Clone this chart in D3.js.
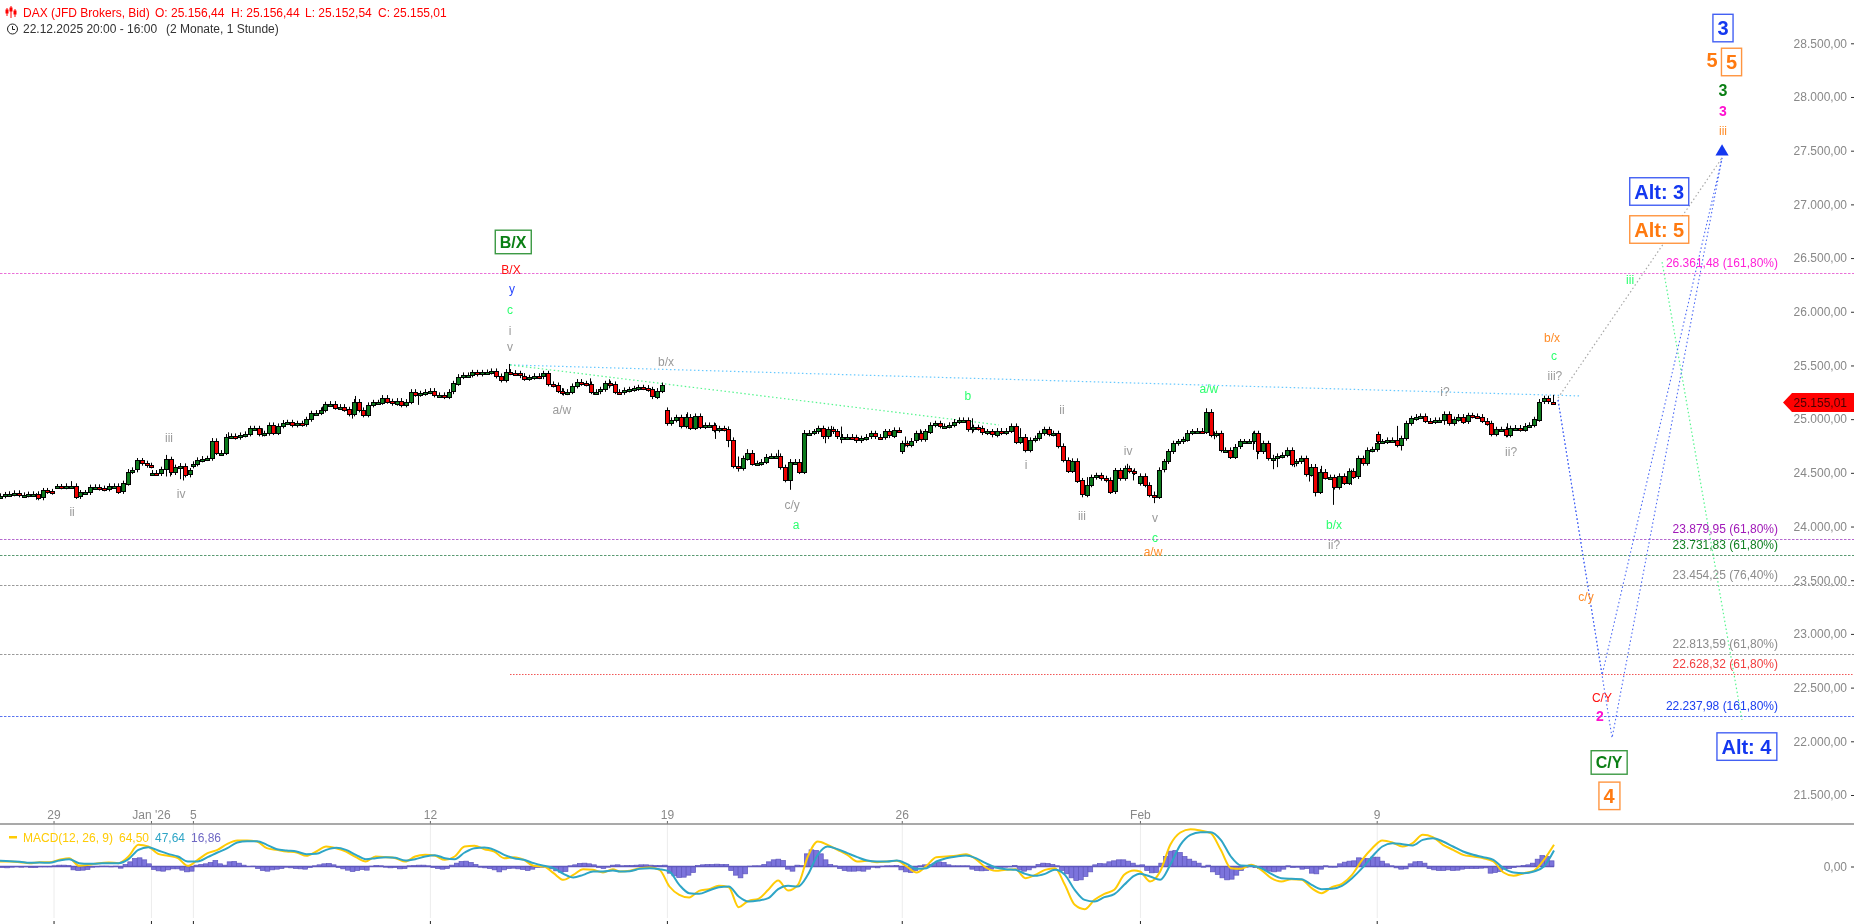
<!DOCTYPE html>
<html><head><meta charset="utf-8">
<script src="https://cdn.jsdelivr.net/npm/d3@7"></script>
<style>html,body{margin:0;padding:0;background:#fff;overflow:hidden}svg{display:block;will-change:transform;opacity:.999}text{font-family:"Liberation Sans",Arial,sans-serif}</style>
</head><body><svg id="c" width="1854" height="924"></svg>
<script>
// ---------- price sessions: closes every two hourly bars ----------
const sessionStartBars=[0,23.9,64,81.3,281.3,380.5,481,581.3];
const sessionOpens=[24286,24373,24503,24565,25086,24699,24404,24860];
const closes0=[24286,24299,24305,24314,24295,24295,24302,24305,24268,24336,24327,24320];
const closes1=[24373,24370,24379,24379,24280,24317,24317,24367,24370,24358,24351,24379,24379,24327,24404,24512,24528,24615,24590,24571,24565];
const closes2=[24503,24494,24534,24627,24503,24553,24565,24481,24522];
const closes3=[24584,24621,24633,24636,24798,24689,24689,24838,24844,24832,24853,24863,24915,24915,24863,24869,24946,24875,24937,24968,24971,24946,24962,24953,24999,25055,25061,25086,25139,25145,25111,25117,25092,25049,25164,25086,25040,25133,25157,25157,25201,25167,25148,25173,
25133,25163,25256,25232,25241,25256,25266,25226,25226,25210,25256,25334,25396,25412,25412,25436,25421,25436,25439,25449,25402,25365,25443,25433,25427,25405,25380,25390,25405,25396,25427,25328,25318,25266,25247,25256,25309,25350,25334,25328,25256,25256,25278,25334,25328,25256,25250,25272,25278,25287,25297,25294,25278,25210,25266,25318];
const closes4=[24962,24993,25018,24937,25024,24922,25030,24931,24946,24946,24900,24915,24909,24807,24565,24544,24637,24689,24590,24590,24605,24652,24658,24658,24553,24435,24605,24605,
24512,24875,24875,24885,24916,24838,24906,24885,24838,24838,24838,24832,24801,24823,24838,24869,24838,24832,24885,24847,24900,24894];
const closes5=[24776,24761,24801,24869,24813,24885,24947,24962,24937,24937,24947,24978,24993,24993,24906,24925,24916,24875,24885,24854,24894,24875,24894,24937,24791,24838,24714,24807,24823,24869,24906,24863,24869,24751,24621,24522,24612,24429,24296,24389,24460,24478,24450,24435,24326,24522,24450,24544,24519,24503];
const closes6=[24472,24389,24296,24280,24528,24606,24699,24776,24792,24813,24875,24885,24894,
24885,25070,24854,24869,24714,24714,24652,24745,24792,24792,24792,24869,24699,24776,24637,24637,24658,24668,24714,24584,24606,24637,24488,24559,24326,24512,24460,24460,24367,24472,24410,24519,24466,24637,24590,24714,24720,24776];
const closes7=[24792,24792,24807,24807,24761,24823,24962,25008,25024,25030,24987,24978,24993,24993,25049,24962,25000,25024,24978,25036,25030,25024,24987,24962,24863,24906,24906,24854,24916,24922,24906,24940,24947,24999,25164,25195,25164,25155];
const sessionCloses=[closes0,closes1,closes2,closes3,closes4,closes5,closes6,closes7];

// ---------- notable wicks ----------
const wickBars=[15.2,30,69.9,71.7,75.9,77.4,89.6,96.3,110.4,135.7,148.4,149.9,176.5,214.9,237.7,249,250.1,257.1,289.7,301.7,307.3,311.6,315,328.4,333.3,348.1,350.5,354.7,381.9,388.2,410,430.4,456.4,458.6,475.4,478.2,487,508.9,512.3,528.8,530.2,535.6,537.3,538.9,546,550.2,552.4,554.7,557.4,562.6,570,589.3,591,609.1,635.9,655.1];
const wickHighs=[24311,24423,24667,24574,24590,24503,24823,24878,24915,25117,25101,25216,25241,25514,25287,25380,25303,25371,25064,24962,24900,24652,24720,24714,24528,24885,24937,24931,24838,24906,25008,24916,24373,24460,24584,24528,24326,25101,24885,24885,24699,24760,24668,24668,24621,24528,24528,24404,24565,24404,24528,24937,24807,25008,24962,25226];
const wickLows=[24249,24357,24466,24466,24441,24429,24652,24807,24838,25055,25005,25086,25133,25427,25219,25303,25226,25287,24931,24816,24739,24512,24652,24637,24342,24776,24838,24776,24745,24807,24869,24791,24274,24357,24512,24429,24218,24931,24813,24714,24627,24637,24534,24553,24553,24481,24419,24280,24497,24202,24388,24807,24708,24947,24832,25154];

// ---------- axis ----------
const priceTicks=[21500,22000,22500,23000,23500,24000,24500,25000,25500,26000,26500,27000,27500,28000,28500];
const timeTickLabels=["29","Jan '26","5","12","19","26","Feb","9"];
const timeTickBars=[22.8,63.9,81.6,181.6,281.6,380.7,481.2,581.1];
const lastClose=25155.01;

// ---------- Fibonacci levels ----------
const fibLevels=[26361.48,23879.95,23731.83,23454.25,22813.59,22628.32,22237.98];
const fibPercents=[161.8,61.8,61.8,76.4,61.8,61.8,161.8];
const fibStartBars=[0,0,0,0,0,215.2,0];
const fibLineColors=["#ea70d8","#b568cf","#5a9a72","#9a9a9a","#9a9a9a","#f25555","#5a74f0"];
const fibTextColors=["#ff20d8","#a018b8","#118022","#8c8c8c","#8c8c8c","#f04040","#1c40f0"];

// ---------- wave projection lines ----------
const lightBlueBars=[215.2,667], lightBluePrices=[25505,25216];
const lightGreenBars=[215.2,421.5], lightGreenPrices=[25505,24946];
const altGreenBars=[701.3,735], altGreenPrices=[26463,22200];
const grayBars=[657.4,726.6], grayPrices=[25197,27433];
const blueABars=[657.4,676,726.6], blueAPrices=[25179,22618,27433];
const blueBBars=[657.4,680.2,726.6], blueBPrices=[25179,22032,27433];
const arrowBar=726.6, arrowPrice=27490;

// ---------- wave labels ----------
const labelTexts=["ii","iii","iv","v","i","c","y","B/X","a/w","b/x","c/y","a","b","ii","i","iii","iv","v","c","a/w","a/w","b/x","ii?","i?","ii?","iii?","c","b/x","c/y","C/Y","iii","iii"];
const labelBars=[30.4,71.3,76.4,215.2,215.2,215.2,216,215.6,237.1,281,334.2,335.9,408.4,448.1,432.9,456.5,476,487.3,487.3,486.5,510.1,562.9,562.9,609.7,637.6,656.1,655.7,654.9,669.2,675.9,727,687.8];
const labelPrices=[24136,24830,24304,25681,25830,26017,26217,26394,25086,25533,24201,24015,25216,25086,24574,24103,24709,24080,23894,23764,25290,24015,23829,25259,24697,25402,25589,25756,23345,22408,27686,26296];
const labelColors=["g","g","g","g","g","l","b","r","g","g","g","l","l","g","g","g","g","g","l","o","l","l","g","g","g","g","l","o","o","r","o","l"];
const boldTexts=["2","5","3","3"];
const boldBars=[675.1,722.4,727,727];
const boldPrices=[22232,28344,28065,27870];
const boldSizes=[14,20,16,14];
const boldColors=["#ff10d0","#ff7a10","#0a7f14","#ff10d0"];
const boxTexts=["B/X","C/Y","4","Alt: 4","3","5","Alt: 3","Alt: 5"];
const boxBars=[216.5,678.9,678.9,736.9,727,730.6,700.1,700.1];
const boxPrices=[26650,21803,21492,21951,28642,28326,27120,26766];
const boxSizes=[16,16,20,20,20,20,20,20];
const boxColors=["#0a7f14","#0a7f14","#ff7a10","#1438f0","#1438f0","#ff7a10","#1438f0","#ff7a10"];

// ---------- MACD(12,26,9) ----------
const macdA=[15,15,13,10,13,13,20,25,2,5,10,12,10,30,65,60,38,32,25,2,20,40,50,68,78,78,75,55,50,45,42,32,45,60,55,45,28,15,30,28,25,15,30,35,32,20,30,60,62,52,45,25,28,20,2,0,-20,-40,-25,-8,-10,-18,-8];
const signalA=[17,16,14,11,12,11,18,22,10,8,9,10,10,22,50,58,48,38,30,15,15,28,42,55,72,76,76,65,52,48,45,37,38,50,56,50,35,22,25,28,26,18,22,30,34,25,22,42,55,57,50,35,25,20,10,2,-5,-22,-33,-25,-15,-15,-12];
const macdB=[-15,-13,-5,-3,-10,-60,-85,-93,-73,-68,-58,-62,-122,-103,-97,-70,-42,-72,-55,30,75,65,50,35,15,17,13,15,17,0,-18,2,28,30,32,37,22,-3,-13,-10,-8,-35,-25,-10,-5,-55,-115,-128,-100,-82,-70,-25,-12];
const signalB=[-15,-14,-7,-5,-8,-15,-55,-80,-82,-72,-62,-60,-90,-105,-102,-95,-68,-58,-60,-25,35,60,52,40,28,18,15,15,18,8,-7,-5,15,25,30,33,25,10,-3,-8,-10,-22,-28,-22,-10,-25,-70,-100,-105,-92,-83,-55,-28];
const macdC=[-15,-45,-15,65,102,112,108,100,50,-5,-7,5,-10,-35,-45,-38,-40,-65,-80,-62,-52,-25,20,55,78,72,60,70,95,88,65,50,35,30,25,15,-18,-28,-20,-13,20,65];
const signalC=[-22,-30,-40,5,65,95,103,103,80,30,3,2,-5,-22,-35,-37,-38,-55,-68,-67,-58,-35,-5,30,60,70,67,63,80,85,75,60,45,35,28,20,-5,-18,-20,-15,0,48];
const histA=[-3,-4,-2,-1,-2,-1,-3,-3,-1,-1,-1,2,4,4,3,-10,-12,-11,-9,-2,-1,1,1,-1,1,-5,6,14,24,26,20,8,-9,-13,-14,-10,-7,-7,-11,-16,-14,4,6,8,12,18,8,4,14,15,10,4,0,1,-6,-12,-14,-10,-8,-6,-2,-4,-6,-7,-8,-3,2,5,8,9,5,-3,-7,-11,-15,-12,-9,-11,1,3,2,-2,-4,-3,-7,-6,2,3,4,4,2,-3,-6,-8,-6,4,10,15,16,12,6,-2,-4,-6,-10,-16,-10,-6,-5,-7,-9,-12,-8,-3,-2,0,-7,-13,-17,-15,2,5,9,10,8,5,-3,-6,-2,4,5];
const histB=[2,3,3,4,5,5,4,3,3,4,-20,-28,-33,-32,-26,-18,3,5,6,6,7,6,6,-12,-26,-34,-22,1,2,2,6,14,20,22,18,-8,-14,4,3,38,50,48,38,20,6,2,-6,-12,-14,-14,-13,-14,-8,-2,-4,1,2,2,3,-10,-16,-18,-12,2,5,6,10,14,12,5,2,2,2,2,-8,-12,-13,-12,-8,-4,-3,-2,-1,3,-10,-14,-10,-4,6,10,9,6,2,-12,-22,-34,-42,-40,-30,-16,5,9,8,14,17,20,20,16,10,4];
const histC=[5,-12,-19,-18,10,30,46,48,42,30,22,16,10,-2,4,-16,-24,-34,-40,-38,-26,-12,-2,0,-3,-6,-9,-14,-16,-14,-8,2,-3,-2,-8,-6,-20,-22,-8,2,-2,-2,8,13,16,17,26,24,24,28,28,16,8,2,-4,-8,-7,8,14,15,10,-6,-10,-12,-12,-10,-12,-11,-8,-6,-6,-6,-5,-4,-20,-18,-15,-8,-6,-3,1,3,5,10,22,33,30,17];
const macdSectionBars=[[0,258.6],[261.6,478.5],[481,655.7]];
const histSectionBars=[[0,261.6],[261.6,481],[481,655.7]];
const macdLegend=["MACD(12, 26, 9)","64,50","47,64","16,86"];

// ---------- scales ----------
const x=d3.scaleLinear().domain([0,1000]).range([0,2370]);
const y=d3.scaleLinear().domain([21500,28500]).range([795,43.3]);
const ym=d3.scaleLinear().domain([-150,150]).range([916.5,816.5]);
const de=d3.formatLocale({decimal:",",thousands:".",grouping:[3],currency:["","€"]});
const fmtP=de.format(",.2f");

const svg=d3.select("#c");
const C={g:"#9a9a9a",l:"#2bff6e",b:"#2a48ff",r:"#ff1010",o:"#ff8c28"};
const F='"Liberation Sans",Arial,sans-serif';
svg.append("rect").attr("width",1854).attr("height",924).attr("fill","#fff");

// ---------- MACD pane back layer ----------
const pane=svg.append("g");
pane.selectAll("line.grid").data(timeTickBars).join("line").attr("class","grid")
 .attr("x1",d=>x(d)).attr("x2",d=>x(d)).attr("y1",824).attr("y2",918).attr("stroke","#ececec");
pane.selectAll("line.bt").data(timeTickBars).join("line").attr("class","bt")
 .attr("x1",d=>x(d)).attr("x2",d=>x(d)).attr("y1",921).attr("y2",924).attr("stroke","#222");
pane.selectAll("line.tt").data(timeTickBars).join("line").attr("class","tt")
 .attr("x1",d=>x(d)).attr("x2",d=>x(d)).attr("y1",821).attr("y2",824).attr("stroke","#666");

// histogram
[histA,histB,histC].forEach((h,i)=>{
  const s=d3.scaleLinear().domain([0,h.length]).range(histSectionBars[i]);
  pane.append("g").selectAll("rect").data(h).join("rect")
   .attr("x",(d,j)=>x(s(j)))
   .attr("width",(d,j)=>x(s(j+1))-x(s(j)))
   .attr("y",d=>Math.min(ym(d),ym(0)))
   .attr("height",d=>Math.abs(ym(d)-ym(0)))
   .attr("fill","#7c74dc").attr("stroke","#5f57bd").attr("stroke-width",0.7);
});
pane.append("line").attr("x1",x(0)).attr("x2",x(655.7)).attr("y1",ym(0)).attr("y2",ym(0)).attr("stroke","#5f57bd").attr("stroke-width",1.6);

const mline=d3.line().x(d=>x(d[0])).y(d=>ym(d[1])).curve(d3.curveMonotoneX);
function sec(arrs){
  let out=[];
  arrs.forEach((a,i)=>{
    const s=d3.scaleLinear().domain([0,a.length-1]).range(macdSectionBars[i]);
    a.forEach((v,j)=>out.push([s(j),v]));
  });
  return out;
}
pane.append("path").attr("d",mline(sec([macdA,macdB,macdC]))).attr("fill","none").attr("stroke","#ffcb05").attr("stroke-width",2);
pane.append("path").attr("d",mline(sec([signalA,signalB,signalC]))).attr("fill","none").attr("stroke","#2ea5c6").attr("stroke-width",2);

// axis line + labels
svg.append("line").attr("x1",0).attr("x2",1854).attr("y1",824).attr("y2",824).attr("stroke","#8c8c8c").attr("stroke-width",1.4);
svg.append("g").selectAll("text").data(timeTickLabels).join("text")
 .attr("x",(d,i)=>x(timeTickBars[i])).attr("y",819).attr("text-anchor","middle").attr("font-size",12).attr("fill","#888").text(d=>d);

// legend
svg.append("rect").attr("x",9).attr("y",836).attr("width",8).attr("height",2.5).attr("fill","#ffcb05");
const legX=[23,119,155,191], legC=["#ffcb05","#ffcb05","#2ea5c6","#6f68c4"];
svg.append("g").selectAll("text").data(macdLegend).join("text")
 .attr("x",(d,i)=>legX[i]).attr("y",841.5).attr("font-size",12).attr("fill",(d,i)=>legC[i]).text(d=>d);

// ---------- Fib levels ----------
const levels=svg.append("g");
levels.selectAll("line").data(fibLevels).join("line")
 .attr("x1",(d,i)=>x(fibStartBars[i])).attr("x2",1854)
 .attr("y1",d=>Math.round(y(d))+.5).attr("y2",d=>Math.round(y(d))+.5)
 .attr("stroke",(d,i)=>fibLineColors[i]).attr("stroke-width",1)
 .attr("stroke-dasharray",(d,i)=>i==5?"1.5,1.5":"2.5,1.5");

// ---------- projection lines ----------
const pl=d3.line().x(d=>x(d[0])).y(d=>y(d[1]));
function proj(b,p,color,w){
  svg.append("path").attr("d",pl(b.map((v,i)=>[v,p[i]]))).attr("fill","none")
   .attr("stroke",color).attr("stroke-width",w||1.2).attr("stroke-dasharray","1.5,2.5");
}
proj(lightBlueBars,lightBluePrices,"#66c8ff");
proj(lightGreenBars,lightGreenPrices,"#55f58e");
proj(altGreenBars,altGreenPrices,"#55f58e");
proj(grayBars,grayPrices,"#a8a8a8");
proj(blueABars,blueAPrices,"#4a68f5",1.1);
proj(blueBBars,blueBPrices,"#4a68f5",1.1);
svg.append("path").attr("d",d3.symbol(d3.symbolTriangle,75)()).attr("transform",`translate(${x(arrowBar)},${y(arrowPrice)})`).attr("fill","#1438f0");

// ---------- candles ----------
svg.append("g").selectAll("line").data(wickBars).join("line")
 .attr("x1",d=>Math.round(x(d))+.5).attr("x2",d=>Math.round(x(d))+.5)
 .attr("y1",(d,i)=>y(wickHighs[i])).attr("y2",(d,i)=>y(wickLows[i]))
 .attr("stroke","#000").attr("stroke-width",1);
const candles=[];
sessionCloses.forEach((cl,s)=>{
  let prev=sessionOpens[s];
  cl.forEach((c,j)=>{candles.push({b:sessionStartBars[s]+2*j,o:prev,c});prev=c;});
});
const cand=svg.append("g").selectAll("g").data(candles).join("g");
cand.append("line")
 .attr("x1",d=>Math.round(x(d.b))+.5).attr("x2",d=>Math.round(x(d.b))+.5)
 .attr("y1",d=>Math.min(y(d.o),y(d.c))-2.5).attr("y2",d=>Math.max(y(d.o),y(d.c))+2.5)
 .attr("stroke","#000");
cand.append("rect")
 .attr("x",d=>Math.round(x(d.b))-1.5).attr("width",4)
 .attr("y",d=>Math.round(Math.min(y(d.o),y(d.c)))+.5)
 .attr("height",d=>Math.max(Math.round(Math.abs(y(d.o)-y(d.c))),2))
 .attr("fill",d=>d.c>=d.o?"#0c7a1c":"#f00000").attr("stroke","#000").attr("stroke-width",1);

// ---------- fib labels ----------
svg.append("g").selectAll("text").data(fibLevels).join("text")
 .attr("x",1778).attr("y",d=>y(d)-6).attr("text-anchor","end").attr("font-size",12)
 .attr("fill",(d,i)=>fibTextColors[i])
 .text((d,i)=>`${fmtP(d)} (${fmtP(fibPercents[i])}%)`);

// ---------- labels ----------
svg.append("g").selectAll("text").data(labelTexts).join("text")
 .attr("x",(d,i)=>x(labelBars[i])).attr("y",(d,i)=>y(labelPrices[i])+4.5).attr("text-anchor","middle")
 .attr("font-size",12).attr("fill",(d,i)=>C[labelColors[i]]).text(d=>d);
svg.append("g").selectAll("text").data(boldTexts).join("text")
 .attr("x",(d,i)=>x(boldBars[i])).attr("y",(d,i)=>y(boldPrices[i])+boldSizes[i]*.36).attr("text-anchor","middle")
 .attr("font-size",(d,i)=>boldSizes[i]).attr("font-weight","bold").attr("fill",(d,i)=>boldColors[i]).text(d=>d);
boxTexts.forEach((t,i)=>{
  const g=svg.append("g");
  const txt=g.append("text").attr("x",x(boxBars[i])).attr("y",y(boxPrices[i])+boxSizes[i]*.36)
   .attr("text-anchor","middle").attr("font-size",boxSizes[i]).attr("font-weight","bold").attr("fill",boxColors[i]).text(t);
  const bb=txt.node().getBBox();
  const h=boxSizes[i]==16?23.5:27.5;
  g.insert("rect","text").attr("x",bb.x-4.5).attr("width",bb.width+9).attr("y",y(boxPrices[i])-h/2).attr("height",h)
   .attr("fill","#fff").attr("stroke",boxColors[i]).attr("stroke-width",1.4).attr("stroke-opacity",.8);
});

// ---------- price axis ----------
const axis=d3.axisLeft(y).tickValues(priceTicks).tickFormat(fmtP).tickSize(3).tickPadding(4);
const ag=svg.append("g").attr("transform","translate(1854,0)").call(axis);
ag.select(".domain").remove();
ag.selectAll("text").attr("font-family",F).attr("font-size",12).attr("fill","#888");
ag.selectAll("line").attr("stroke","#333");
const zg=svg.append("g").attr("transform","translate(1854,0)").call(d3.axisLeft(ym).tickValues([0]).tickFormat(fmtP).tickSize(3).tickPadding(4));
zg.select(".domain").remove();
zg.selectAll("text").attr("font-family",F).attr("font-size",12).attr("fill","#888");
zg.selectAll("line").attr("stroke","#333");

// last price tag
const ly=y(lastClose);
svg.append("path").attr("d",`M1783,${ly} L1792,${ly-9.5} L1854,${ly-9.5} L1854,${ly+9.5} L1792,${ly+9.5} Z`).attr("fill","#ff0000");
svg.append("text").attr("x",1847).attr("y",ly+4.5).attr("text-anchor","end").attr("font-size",12).attr("fill","#4a0000").text(fmtP(lastClose));

// ---------- header ----------
const headerTexts=["DAX (JFD Brokers, Bid)","O: 25.156,44","H: 25.156,44","L: 25.152,54","C: 25.155,01"];
const hx=[23,155,231,305,378];
svg.append("g").selectAll("text").data(headerTexts).join("text").attr("x",(d,i)=>hx[i]).attr("y",17).attr("font-size",12).attr("fill","#ff0000").text(d=>d);
svg.append("text").attr("x",23).attr("y",33).attr("font-size",12).attr("fill","#333").text("22.12.2025 20:00 - 16:00");
svg.append("text").attr("x",166).attr("y",33).attr("font-size",12).attr("fill","#333").text("(2 Monate, 1 Stunde)");
const ic=svg.append("g").attr("stroke","#f00").attr("fill","none");
[[7,8,16],[11,6,18],[15,9,17]].forEach(a=>{
  ic.append("line").attr("x1",a[0]).attr("x2",a[0]).attr("y1",a[1]).attr("y2",a[2]);
  ic.append("rect").attr("x",a[0]-1).attr("y",a[1]+2).attr("width",2).attr("height",3).attr("fill","#f00");
});
const ck=svg.append("g").attr("stroke","#222").attr("fill","none");
ck.append("circle").attr("cx",12.5).attr("cy",29).attr("r",5);
ck.append("path").attr("d","M12.5,26 V29.5 H15");
</script></body></html>
